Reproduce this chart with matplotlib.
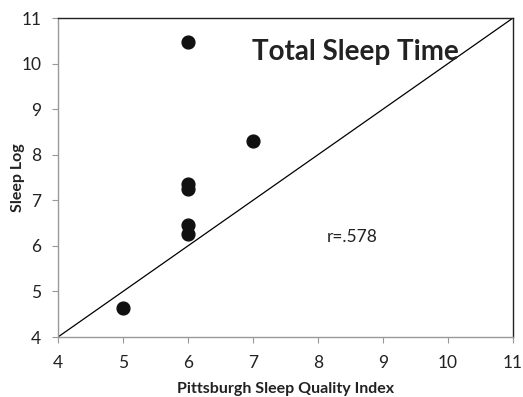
import matplotlib
matplotlib.use("Agg")
import matplotlib.pyplot as plt

plt.rcParams['font.family'] = ['Lato', 'DejaVu Sans']

# PSQI score vs. sleep log hours
psqi = [5, 6, 6, 6, 6, 6, 7]
sleep_log = [4.64, 10.48, 7.36, 7.24, 6.46, 6.27, 8.3]
ticks = [4, 5, 6, 7, 8, 9, 10, 11]

fig = plt.figure(figsize=(5.23, 3.97), dpi=100)
ax = fig.add_axes([58 / 523, 1 - 337 / 397, 455 / 523, 319 / 397])

ax.plot([4, 11], [4, 11], color='black', lw=0.9, zorder=1)
ax.scatter(psqi, sleep_log, s=85, color='#111111', zorder=2)

ax.set_xlim(4, 11)
ax.set_ylim(4, 11)
ax.set_xticks(ticks)
ax.set_yticks(ticks)
ax.tick_params(direction='out', length=4, width=0.8, color='#999999',
               labelsize=12.5, labelcolor='#222222')
ax.tick_params(axis='x', pad=9)
ax.tick_params(axis='y', pad=8)

for side in ['left', 'bottom']:
    ax.spines[side].set_color('#999999')
    ax.spines[side].set_linewidth(1.0)
for side in ['top', 'right']:
    ax.spines[side].set_color('#222222')
    ax.spines[side].set_linewidth(1.0)

ax.set_xlabel('Pittsburgh Sleep Quality Index', fontsize=11.5, fontweight='bold',
              color='#222222', va='center')
ax.xaxis.set_label_coords(0.5, -0.163)
ax.set_ylabel('Sleep Log', fontsize=11.5, fontweight='bold', color='#222222',
              va='center')
ax.yaxis.set_label_coords(-0.088, 0.5)

ax.text(8.57, 10.25, 'Total Sleep Time', fontsize=20, fontweight='bold',
        color='#222222', ha='center', va='center')
ax.text(8.52, 6.2, 'r=.578', fontsize=12.5, color='#222222',
        ha='center', va='center')

fig.savefig('out.png', dpi=100)
